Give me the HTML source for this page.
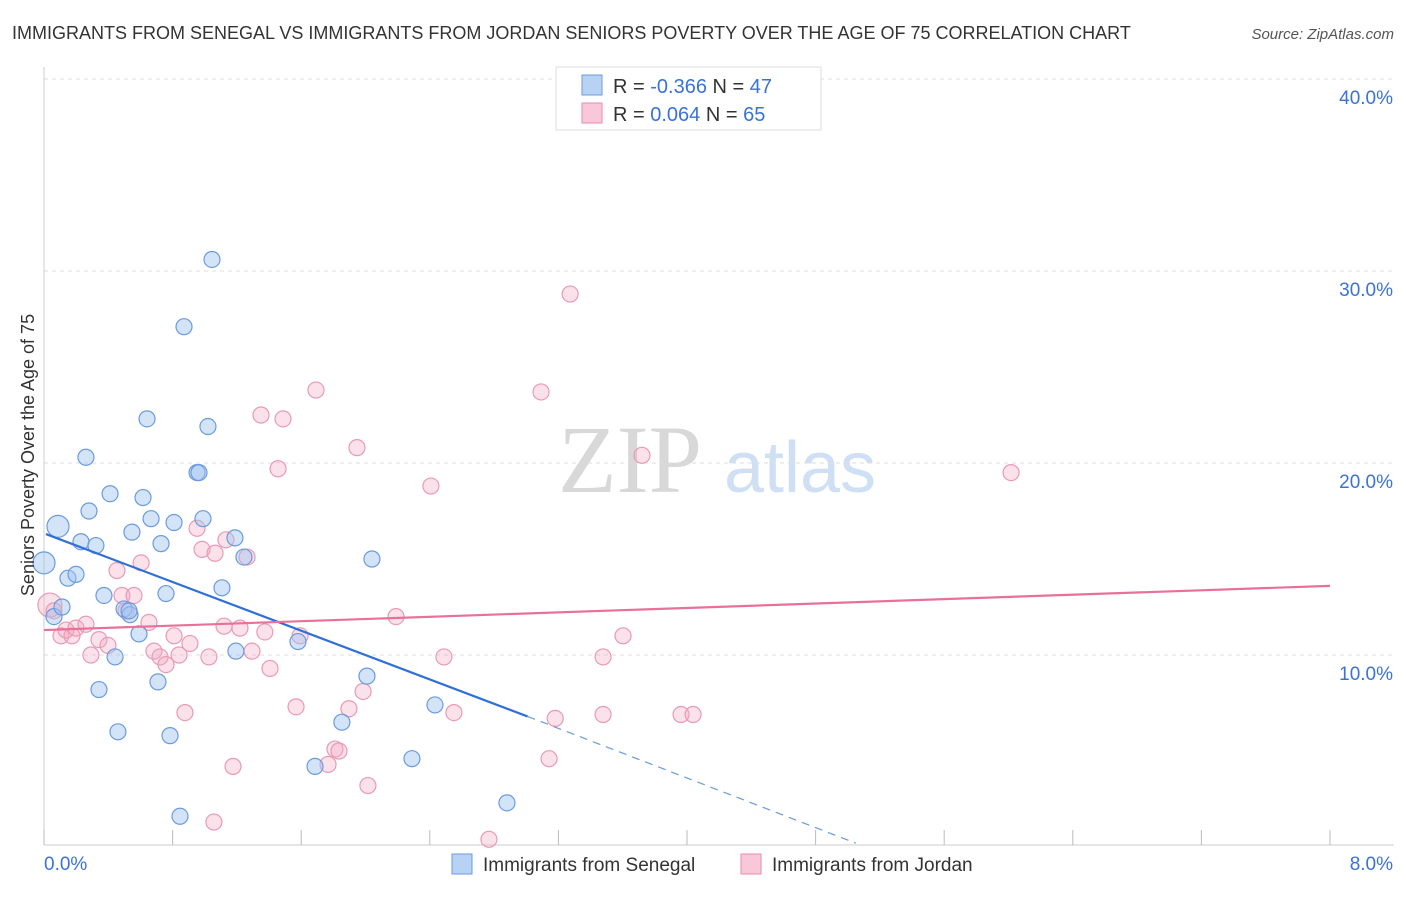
<!DOCTYPE html>
<html><head><meta charset="utf-8"><style>
body{margin:0;background:#fff;font-family:"Liberation Sans",sans-serif;}
</style></head><body>
<svg width="1406" height="892" xmlns="http://www.w3.org/2000/svg" font-family="Liberation Sans, sans-serif">
<text x="12" y="39" font-size="18" fill="#333">IMMIGRANTS FROM SENEGAL VS IMMIGRANTS FROM JORDAN SENIORS POVERTY OVER THE AGE OF 75 CORRELATION CHART</text>
<text x="1394" y="39" font-size="15" fill="#555" font-style="italic" text-anchor="end">Source: ZipAtlas.com</text>
<text x="630" y="492" font-size="96" fill="#d8d8d8" font-family="Liberation Serif, serif" text-anchor="middle">ZIP</text>
<text x="800" y="492" font-size="72" fill="#cfe0f4" text-anchor="middle">atlas</text>
<g id="grid"></g>
<g id="axes"></g>
<g id="pts"></g>
<g id="trend"></g>
<text transform="translate(34,455) rotate(-90)" font-size="18" fill="#333" text-anchor="middle">Seniors Poverty Over the Age of 75</text>
<g>
<rect x="556" y="67" width="265" height="63" fill="#fff" stroke="#ddd"/>
<rect x="582" y="75" width="20" height="20" fill="#b8d2f4" stroke="#6a9be0"/>
<rect x="582" y="103" width="20" height="20" fill="#f9c8d8" stroke="#e88aa8"/>
<text x="613" y="93" font-size="20" fill="#333">R = <tspan fill="#3a72d8">-0.366</tspan>   N = <tspan fill="#3a72d8">47</tspan></text>
<text x="613" y="121" font-size="20" fill="#333">R =  <tspan fill="#3a72d8"> 0.064</tspan>   N = <tspan fill="#3a72d8">65</tspan></text>
</g>
<g>
<rect x="452" y="854" width="20" height="20" fill="#b8d2f4" stroke="#6a9be0"/>
<text x="483" y="871" font-size="19" fill="#333">Immigrants from Senegal</text>
<rect x="741" y="854" width="20" height="20" fill="#f9c8d8" stroke="#e88aa8"/>
<text x="772" y="871" font-size="19" fill="#333">Immigrants from Jordan</text>
</g>
</svg>
<script>
const yTicks=[10,20,30,40];
const yTickLabels=["10.0%","20.0%","30.0%","40.0%"];
const xTickVals=[0,0.8,1.6,2.4,3.2,4.0,4.8,5.6,6.4,7.2,8.0];
const xEndLabels=["0.0%","8.0%"];
const senegalX=[0.087,0.0,0.149,0.199,0.062,0.112,0.261,0.280,0.411,0.230,0.323,0.373,0.498,0.535,0.342,0.442,0.460,0.591,0.641,0.616,0.666,0.547,0.728,0.759,0.709,0.784,0.871,1.045,1.020,0.952,0.964,0.809,0.989,1.188,1.244,1.107,1.194,1.580,2.040,2.009,1.853,1.686,2.289,2.432,2.880,0.846,0.529];
const senegalY=[16.7,14.8,14.0,14.2,12.0,12.5,20.3,17.5,18.4,15.9,15.7,13.1,12.4,12.1,8.2,9.9,6.0,11.1,22.3,18.2,17.1,16.4,15.8,13.2,8.6,5.8,27.1,30.6,21.9,19.5,19.5,16.9,17.1,16.1,15.1,13.5,10.2,10.7,15.0,8.9,6.5,4.2,4.6,7.4,2.3,1.6,12.3];
const jordanX=[0.037,0.062,0.106,0.174,0.137,0.199,0.261,0.292,0.342,0.398,0.454,0.485,0.560,0.510,0.604,0.653,0.684,0.722,0.759,0.809,0.840,0.908,0.952,0.983,1.026,1.132,1.120,1.219,1.263,1.294,1.374,1.406,1.350,1.487,1.456,1.692,1.568,1.897,1.947,1.985,1.810,1.835,1.767,2.015,2.190,2.407,2.488,2.550,1.057,1.176,0.877,2.768,3.092,3.273,3.720,3.180,3.142,3.478,3.602,3.478,3.963,4.038,6.016,1.593,1.064];
const jordanY=[12.6,12.3,11.0,11.0,11.3,11.4,11.6,10.0,10.8,10.5,14.4,13.1,13.1,12.3,14.8,11.7,10.2,9.9,9.5,11.0,10.0,10.6,16.6,15.5,9.9,16.0,11.5,11.4,15.1,10.2,11.2,9.3,22.5,22.3,19.7,23.8,7.3,7.2,20.8,8.1,5.1,5.0,4.3,3.2,12.0,18.8,9.9,7.0,1.3,4.2,7.0,0.4,23.7,28.8,20.4,6.7,4.6,9.9,11.0,6.9,6.9,6.9,19.5,11.0,15.3];
const senegalTrend=[[0.012,16.3],[3.008,6.8]];
const senegalTrendExt=[[3.008,6.8],[5.05,0.2]];
const jordanTrend=[[0,11.3],[8,13.6]];
const NS="http://www.w3.org/2000/svg";
const X=v=>44+v/8*1286, Y=v=>847-v*19.2;
function mk(t,a,p){const e=document.createElementNS(NS,t);for(const k in a)e.setAttribute(k,a[k]);document.getElementById(p).appendChild(e);return e;}
yTicks.forEach((t,i)=>{
 const g=mk('line',{x1:44,x2:1394,y1:Y(t),y2:Y(t),stroke:'#ddd','stroke-dasharray':'4,4'},'grid');
 
 
 const l=mk('text',{x:1393,y:Y(t)+25,'font-size':19,fill:'#3a72d8','text-anchor':'end'},'axes');
 l.textContent=yTickLabels[i];
 
 
});
const ax=mk('line',{x1:44,x2:44,y1:67,y2:845,stroke:'#ccc'},'axes');


const bx=mk('line',{x1:44,x2:1394,y1:845,y2:845,stroke:'#ccc'},'axes');


xTickVals.forEach(v=>{
 const t=mk('line',{x1:X(v),x2:X(v),y1:830,y2:845,stroke:'#bbb'},'axes');
 
 
});
const xl0=mk('text',{x:44,y:870,'font-size':19,fill:'#3a72d8'},'axes');xl0.textContent=xEndLabels[0];


const xl1=mk('text',{x:1393,y:870,'font-size':19,fill:'#3a72d8','text-anchor':'end'},'axes');xl1.textContent=xEndLabels[1];


jordanX.forEach((v,i)=>{
 const c=mk('circle',{cx:X(v),cy:Y(jordanY[i]),r:i==0?12:8,fill:'rgba(244,170,196,0.35)',stroke:'#e99ab4','stroke-width':1.2},'pts');
 
 
});
senegalX.forEach((v,i)=>{
 const c=mk('circle',{cx:X(v),cy:Y(senegalY[i]),r:i<2?11:8,fill:'rgba(160,196,240,0.45)',stroke:'#6a9be0','stroke-width':1.2},'pts');
 
 
});
function ln(p,attrs,name){const e=mk('line',Object.assign({x1:X(p[0][0]),y1:Y(p[0][1]),x2:X(p[1][0]),y2:Y(p[1][1])},attrs),'trend');
 
 }
ln(senegalTrend,{stroke:'#2f6fd8','stroke-width':2.2},'senegal-trend-line');
ln(senegalTrendExt,{stroke:'#6a9be0','stroke-width':1.2,'stroke-dasharray':'8,6'},'senegal-trend-extension');
ln(jordanTrend,{stroke:'#e8709a','stroke-width':2.2},'jordan-trend-line');
</script>
</body></html>
